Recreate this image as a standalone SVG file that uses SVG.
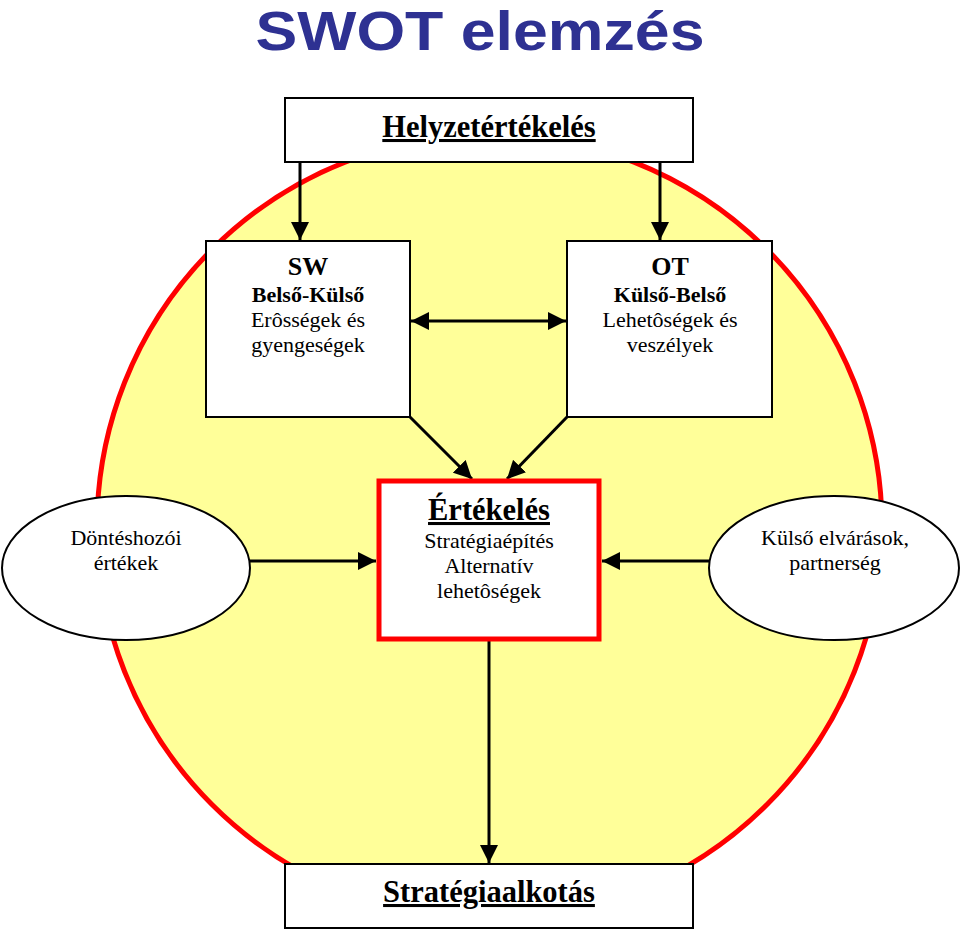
<svg xmlns="http://www.w3.org/2000/svg" width="960" height="930" viewBox="0 0 960 930">
<style>
.box{fill:#fff;stroke:#000;stroke-width:2}
text.t{font-family:'Liberation Serif','Times New Roman',Tinos,'DejaVu Serif',serif;text-anchor:middle;fill:#000;font-size:22px}
text.b{font-weight:bold}
text.h{font-size:30.5px}
text.s{font-size:26px}
.c{stroke:#000;stroke-width:3;fill:none}
</style>
<defs>
<marker id="ah" viewBox="0 0 10 10" refX="10" refY="5" markerWidth="6" markerHeight="6" markerUnits="strokeWidth" orient="auto-start-reverse">
<path d="M0,0 L10,5 L0,10 z" fill="#000"/>
</marker>
</defs>
<rect width="960" height="930" fill="#fff"/>
<g id="bg-circle"><circle cx="489.5" cy="527" r="392.5" fill="#FFFF99" stroke="#FF0000" stroke-width="5"/></g>
<text x="480" y="50" font-family="'Liberation Sans',Arial,sans-serif" font-weight="bold" font-size="55" fill="#2E3192" text-anchor="middle" textLength="449" lengthAdjust="spacingAndGlyphs">SWOT elemzés</text>
<g id="connectors">
<line class="c" x1="300" y1="162" x2="300" y2="240" marker-end="url(#ah)"/>
<line class="c" x1="660" y1="162" x2="660" y2="240" marker-end="url(#ah)"/>
<line class="c" x1="411" y1="321" x2="566" y2="321" marker-start="url(#ah)" marker-end="url(#ah)"/>
<line class="c" x1="410" y1="417" x2="472" y2="479" marker-end="url(#ah)"/>
<line class="c" x1="567" y1="417" x2="507" y2="479" marker-end="url(#ah)"/>
<line class="c" x1="250" y1="561" x2="376" y2="561" marker-end="url(#ah)"/>
<line class="c" x1="709" y1="561" x2="602" y2="561" marker-end="url(#ah)"/>
<line class="c" x1="489" y1="641" x2="489" y2="863" marker-end="url(#ah)"/>
</g>
<g id="helyzet">
<rect class="box" x="285" y="98" width="408" height="64"/>
<text class="t b h" x="489" y="137" text-decoration="underline">Helyzetértékelés</text>
</g>
<g id="sw">
<rect class="box" x="206" y="241" width="204" height="176"/>
<text class="t b s" x="308" y="275">SW</text>
<text class="t b" x="308" y="302">Belső-Külső</text>
<text class="t" x="308" y="327">Erôsségek és</text>
<text class="t" x="308" y="352">gyengeségek</text>
</g>
<g id="ot">
<rect class="box" x="567" y="241" width="205" height="176"/>
<text class="t b s" x="670" y="275">OT</text>
<text class="t b" x="670" y="302">Külső-Belső</text>
<text class="t" x="670" y="327">Lehetôségek és</text>
<text class="t" x="670" y="352">veszélyek</text>
</g>
<g id="ertekeles">
<rect x="379" y="481" width="220" height="158" fill="#fff" stroke="#FF0000" stroke-width="5"/>
<text class="t b h" x="489" y="520" text-decoration="underline">Értékelés</text>
<text class="t" x="489" y="548">Stratégiaépítés</text>
<text class="t" x="489" y="573">Alternatív</text>
<text class="t" x="489" y="598">lehetôségek</text>
</g>
<g id="dontes">
<ellipse cx="126" cy="568" rx="124" ry="72" fill="#fff" stroke="#000" stroke-width="2"/>
<text class="t" x="126" y="545">Döntéshozói</text>
<text class="t" x="126" y="570">értékek</text>
</g>
<g id="kulso">
<ellipse cx="834" cy="568" rx="125" ry="72" fill="#fff" stroke="#000" stroke-width="2"/>
<text class="t" x="835" y="545">Külső elvárások,</text>
<text class="t" x="835" y="570">partnerség</text>
</g>
<g id="strategia">
<rect class="box" x="285" y="864" width="408" height="64"/>
<text class="t b h" x="489" y="902" text-decoration="underline">Stratégiaalkotás</text>
</g>
</svg>
